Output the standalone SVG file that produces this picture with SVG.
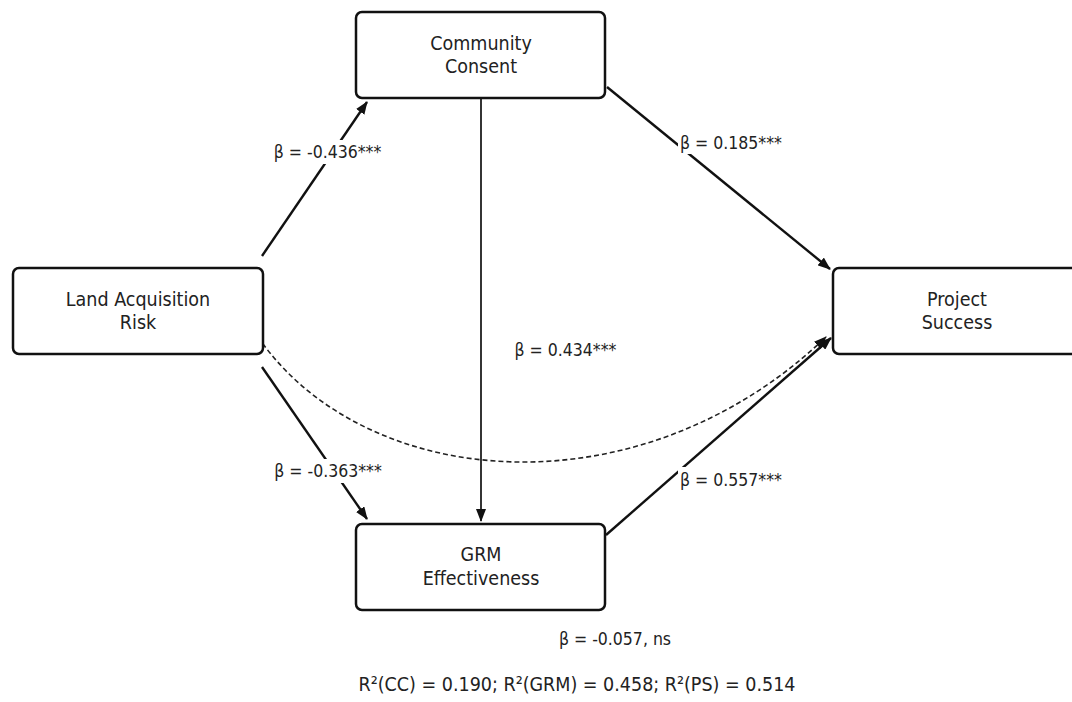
<svg xmlns="http://www.w3.org/2000/svg" width="1072" height="702" viewBox="0 0 1072 702">
<style>
.box{fill:#fff;stroke:#111;stroke-width:2.5}
.nt{font-family:'DejaVu Sans Condensed','DejaVu Sans',sans-serif;font-size:19.5px;fill:#222;text-anchor:middle}
.lb{font-family:'DejaVu Sans Condensed','DejaVu Sans',sans-serif;font-size:17.5px;fill:#222;text-anchor:middle}
.r2{font-family:'DejaVu Sans Condensed','DejaVu Sans',sans-serif;font-size:19.5px;fill:#222;text-anchor:middle}
.ln{fill:none;stroke:#111;stroke-width:2.4}
.thin{fill:none;stroke:#111;stroke-width:1.7}
.dash{fill:none;stroke:#222;stroke-width:1.6;stroke-dasharray:5 3}
.bg{fill:#fff}
</style>
<defs>
<marker id="ah" viewBox="0 0 13 10" refX="12" refY="5" markerWidth="13" markerHeight="10" markerUnits="userSpaceOnUse" orient="auto">
<path d="M0,0 L13,5 L0,10 z" fill="#111"/>
</marker>
</defs>
<rect width="1072" height="702" fill="#fff"/>
<g id="connectors">
<line class="ln" x1="262" y1="256" x2="367" y2="102" marker-end="url(#ah)"/>
<line class="ln" x1="607" y1="87" x2="830" y2="269" marker-end="url(#ah)"/>
<line class="thin" x1="481" y1="98" x2="481" y2="521" marker-end="url(#ah)"/>
<line class="ln" x1="262" y1="367" x2="367" y2="519" marker-end="url(#ah)"/>
<line class="ln" x1="606" y1="535" x2="831" y2="338" marker-end="url(#ah)"/>
<path class="dash" d="M258,337 C365,492 640,515 826,337" marker-end="url(#ah)"/>
<rect class="bg" x="271" y="140" width="114" height="24"/>
<text class="lb" x="327.5" y="158">β = -0.436***</text>
<rect class="bg" x="678" y="130" width="106" height="24"/>
<text class="lb" x="731" y="149">β = 0.185***</text>
<text class="lb" x="565.5" y="356">β = 0.434***</text>
<rect class="bg" x="271" y="459" width="114" height="24"/>
<text class="lb" x="328" y="477">β = -0.363***</text>
<rect class="bg" x="678" y="467" width="106" height="24"/>
<text class="lb" x="731" y="486">β = 0.557***</text>
<text class="lb" x="615" y="645">β = -0.057, ns</text>
</g>
<g id="node-cc">
<rect class="box" x="356" y="12" width="249" height="86" rx="6"/>
<text class="nt" x="481" y="50">Community</text>
<text class="nt" x="481" y="73">Consent</text>
</g>
<g id="node-lar">
<rect class="box" x="13" y="268" width="250" height="86" rx="6"/>
<text class="nt" x="138" y="306">Land Acquisition</text>
<text class="nt" x="138" y="329">Risk</text>
</g>
<g id="node-ps">
<rect class="box" x="833" y="268" width="249" height="86" rx="6"/>
<text class="nt" x="957" y="306">Project</text>
<text class="nt" x="957" y="329">Success</text>
</g>
<g id="node-grm">
<rect class="box" x="356" y="524" width="249" height="86" rx="6"/>
<text class="nt" x="481" y="561">GRM</text>
<text class="nt" x="481" y="585">Effectiveness</text>
</g>
<text class="r2" x="577" y="691">R²(CC) = 0.190; R²(GRM) = 0.458; R²(PS) = 0.514</text>
</svg>
